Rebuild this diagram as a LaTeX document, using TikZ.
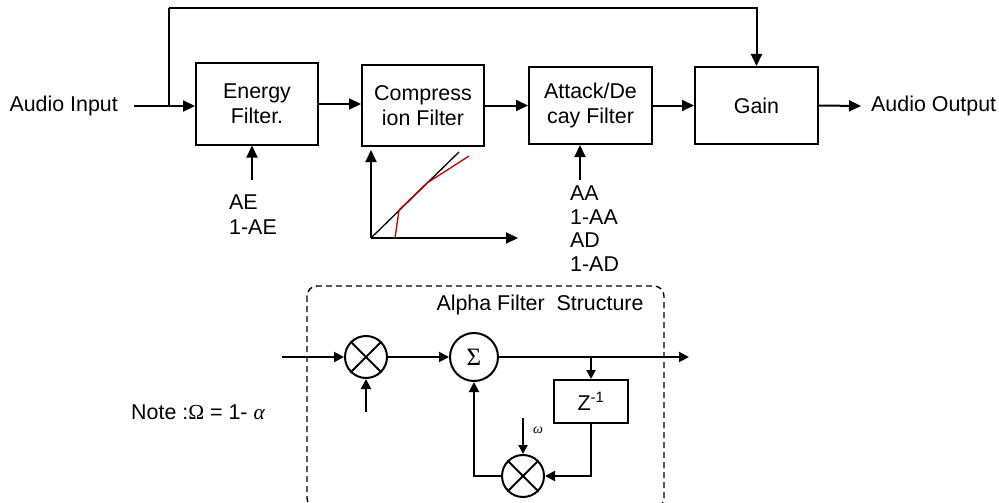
\documentclass[tikz,border=0pt]{standalone}
\usepackage{fontspec}
\setmainfont{Liberation Sans}
\newfontfamily\serifgr{Liberation Serif}
\usetikzlibrary{arrows.meta}
\begin{document}
\begin{tikzpicture}[x=1pt,y=-1pt,
  font=\fontsize{21.4}{25}\selectfont,
  ln/.style={line width=2pt},
  arr/.style={ln,-{Triangle[length=12pt,width=11pt]}},
  sarr/.style={ln,-{Triangle[length=10pt,width=10pt]}},
  blk/.style={draw,line width=2pt,inner sep=0pt,align=center},
  txt/.style={inner sep=0pt},
  mult/.style={draw,line width=2pt,circle,inner sep=0pt,minimum size=42pt},
]
\useasboundingbox (0,0) rectangle (999,503);
% top blocks
\node[blk,minimum width=122pt,minimum height=81pt] (E) at (257,104) {Energy\\Filter.};
\node[blk,minimum width=122pt,minimum height=81pt] (C) at (423,105.5) {Compress\\ion Filter};
\node[blk,minimum width=123pt,minimum height=77pt] (A) at (590.5,105.5) {Attack/De\\cay Filter};
\node[blk,minimum width=123pt,minimum height=77pt] (G) at (756.5,105.5) {Gain};
\node[txt,anchor=east] (ain) at (118,106) {Audio Input};
\node[txt,anchor=west] (aout) at (871,106) {Audio Output};
\coordinate (s) at (134,106);
\coordinate (j) at (169,106);
\coordinate (t) at (169,8);
\coordinate (oe) at (861,106);
\draw[arr] (s) -- (s -| E.west);
\draw[ln] (j) -- (t);
\draw[arr] (t) -| (G.north);
\draw[arr] (E.east) -- (E.east -| C.west);
\draw[arr] (C.east) -- (C.east -| A.west);
\draw[arr] (A.east) -- (A.east -| G.west);
\draw[arr] (G.east) -- (oe);
% parameters
\coordinate (aep) at (252,180);
\draw[arr] (aep) -- (aep |- E.south);
\node[txt,anchor=base west,align=left] (ae) at (229,234.5) {AE\\1-AE};
\coordinate (aap) at (580,180);
\draw[arr] (aap) -- (aap |- A.south);
\node[txt,anchor=base west,align=left,font=\fontsize{21.4}{23.7}\selectfont] (aa) at (570,271.6) {AA\\1-AA\\AD\\1-AD};
% compression curve
\coordinate (go) at (371,238);
\coordinate (gy) at (371,150);
\coordinate (gx) at (518,238);
\draw[arr] (go) -- (gy);
\draw[arr] (go) -- (gx);
\draw[line width=1.3pt] (go) -- (459,152);
\draw[line width=1.3pt,color={rgb,255:red,200;green,0;blue,0}] (395,238) -- (399,210) -- (427,183) -- (469,156);
% alpha filter structure
\draw[line width=1.4pt,dash pattern=on 6pt off 4pt,rounded corners=10pt] (307,286) rectangle (664,508);
\node[txt] (title) at (540,305) {Alpha Filter\ \ Structure};
\node[mult] (M1) at (366,357) {};
\draw[ln] (M1.45) -- (M1.225) (M1.135) -- (M1.315);
\node[draw,line width=2pt,circle,inner sep=0pt,minimum size=48pt,font=\serifgr\fontsize{25}{25}\selectfont] (S) at (474,357) {Σ};
\node[blk,minimum width=74pt,minimum height=43pt] (Z) at (591,401.5) {Z\textsuperscript{-1}};
\node[mult] (M2) at (523,476) {};
\draw[ln] (M2.45) -- (M2.225) (M2.135) -- (M2.315);
\coordinate (in) at (282,357);
\coordinate (m1b) at (366,412);
\coordinate (out) at (689,357);
\coordinate (wt) at (523,418);
\draw[sarr] (in) -- (M1.west);
\draw[sarr] (m1b) -- (M1.south);
\draw[sarr] (M1.east) -- (S.west);
\draw[sarr] (S.east) -- (out);
\draw[ln,-{Triangle[length=9pt,width=9pt]}] (Z.north |- S.east) -- (Z.north);
\draw[sarr] (Z.south) |- (M2.east);
\draw[sarr] (M2.west) -| (S.south);
\draw[ln,-{Triangle[length=9pt,width=9pt]}] (wt) -- (M2.north);
\node[txt,font=\serifgr\itshape\fontsize{14}{14}\selectfont] (om) at (538,430) {ω};
\node[txt,anchor=west] (note) at (131,412) {Note :{\serifgr Ω} = 1- {\serifgr\itshape α}};
\end{tikzpicture}
\end{document}
